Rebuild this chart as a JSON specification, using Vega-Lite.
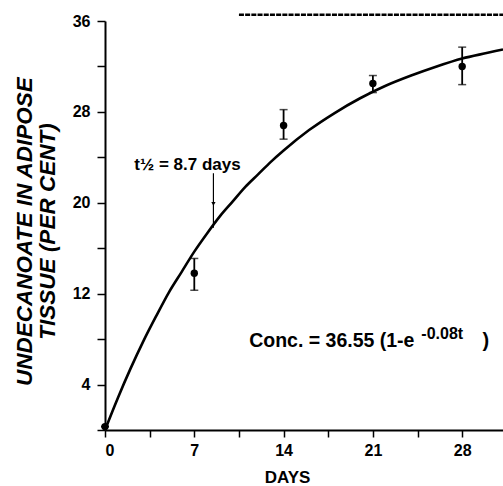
{
  "$schema": "https://vega.github.io/schema/vega-lite/v6.json",
  "width": 398,
  "height": 409,
  "autosize": "none",
  "padding": {"left": 105, "top": 21, "right": 0, "bottom": 56},
  "background": "white",
  "config": {"view": {"stroke": null}, "font": "Liberation Sans"},
  "resolve": {"axis": {"x": "independent", "y": "independent"}, "scale": {"x": "shared", "y": "shared"}},
  "datasets": {
    "points": [
      {"day": 0, "conc": 0.3, "lo": 0.3, "hi": 0.3},
      {"day": 7, "conc": 13.8, "lo": 12.3, "hi": 15.1},
      {"day": 14, "conc": 26.8, "lo": 25.6, "hi": 28.2},
      {"day": 21, "conc": 30.5, "lo": 29.7, "hi": 31.2},
      {"day": 28, "conc": 32.0, "lo": 30.4, "hi": 33.7}
    ],
    "curve": [
      {"day": 0, "conc": 0}, {"day": 1, "conc": 2.8}, {"day": 2, "conc": 5.4},
      {"day": 3, "conc": 7.8}, {"day": 4, "conc": 10.0}, {"day": 5, "conc": 12.1},
      {"day": 6, "conc": 13.9}, {"day": 7, "conc": 15.7}, {"day": 8, "conc": 17.3},
      {"day": 9, "conc": 18.8}, {"day": 10, "conc": 20.1}, {"day": 11, "conc": 21.4},
      {"day": 12, "conc": 22.5}, {"day": 13, "conc": 23.6}, {"day": 14, "conc": 24.6},
      {"day": 16, "conc": 26.4}, {"day": 18, "conc": 27.9}, {"day": 20, "conc": 29.2},
      {"day": 22, "conc": 30.3}, {"day": 24, "conc": 31.2}, {"day": 26, "conc": 32.0},
      {"day": 28, "conc": 32.7}, {"day": 30, "conc": 33.2}, {"day": 31.2, "conc": 33.5}
    ],
    "asymptote": [{"x1": 10.5, "x2": 31.2, "y": 36.55}],
    "arrow": [{"x": 8.5, "y1": 22.6, "y2": 17.8, "yh": 19.9}],
    "notes": [
      {"x": 2.3, "y": 22.9, "label": "t½ = 8.7 days", "size": 17},
      {"x": 11.3, "y": 7.3, "label": "Conc. = 36.55 (1-e", "size": 19.5},
      {"x": 24.8, "y": 8.0, "label": "-0.08t", "size": 16},
      {"x": 29.6, "y": 7.3, "label": ")", "size": 20}
    ]
  },
  "layer": [
    {
      "data": {"name": "curve"},
      "mark": {"type": "line", "color": "black", "strokeWidth": 2.6, "interpolate": "monotone"},
      "encoding": {
        "x": {
          "field": "day", "type": "quantitative",
          "scale": {"domain": [0, 31.2], "nice": false},
          "axis": {
            "title": "DAYS",
            "values": [0, 3.5, 7, 10.5, 14, 17.5, 21, 24.5, 28],
            "labelExpr": "datum.value % 7 == 0 ? datum.label : ''",
            "grid": false, "domainColor": "black", "domainWidth": 2, "tickColor": "black",
            "tickWidth": 1.5, "tickSize": 7, "labelPadding": 5,
            "labelFont": "Liberation Sans", "labelFontSize": 16, "labelFontWeight": "bold", "labelColor": "black",
            "titleFont": "Liberation Sans", "titleFontSize": 17, "titleFontWeight": "bold", "titleColor": "black",
            "titleX": 182, "titleY": 47, "titleBaseline": "middle"
          }
        },
        "y": {
          "field": "conc", "type": "quantitative",
          "scale": {"domain": [0, 36], "nice": false},
          "axis": {
            "title": ["UNDECANOATE IN ADIPOSE", "TISSUE (PER CENT)"],
            "values": [0, 4, 8, 12, 16, 20, 24, 28, 32, 36],
            "labelExpr": "datum.value % 8 == 4 ? datum.label : ''",
            "grid": false, "domainColor": "black", "domainWidth": 2, "tickColor": "black",
            "tickWidth": 1.5, "tickSize": 8, "labelPadding": 7,
            "labelFont": "Liberation Sans", "labelFontSize": 16, "labelFontWeight": "bold", "labelColor": "black",
            "titleFont": "Liberation Sans", "titleFontSize": 22.5, "titleFontWeight": "bold", "titleFontStyle": "italic",
            "titleColor": "black", "titleLineHeight": 23, "titleX": -81, "titleY": 210,
            "titleBaseline": "middle", "titleAlign": "center", "titleAngle": -90
          }
        }
      }
    },
    {
      "data": {"name": "points"},
      "mark": {"type": "errorbar", "ticks": {"size": 8, "color": "black", "thickness": 1.5}, "rule": {"color": "black", "strokeWidth": 1.8}},
      "encoding": {
        "x": {"field": "day", "type": "quantitative", "axis": null},
        "y": {"field": "lo", "type": "quantitative", "axis": null},
        "y2": {"field": "hi"}
      }
    },
    {
      "data": {"name": "points"},
      "mark": {"type": "circle", "color": "black", "opacity": 1, "size": 55},
      "encoding": {
        "x": {"field": "day", "type": "quantitative", "axis": null},
        "y": {"field": "conc", "type": "quantitative", "axis": null}
      }
    },
    {
      "data": {"name": "asymptote"},
      "mark": {"type": "rule", "color": "black", "strokeWidth": 2.6, "strokeDash": [5, 1.2]},
      "encoding": {
        "x": {"field": "x1", "type": "quantitative", "axis": null},
        "x2": {"field": "x2"},
        "y": {"field": "y", "type": "quantitative", "axis": null}
      }
    },
    {
      "data": {"name": "arrow"},
      "mark": {"type": "rule", "color": "black", "strokeWidth": 1.2},
      "encoding": {
        "x": {"field": "x", "type": "quantitative", "axis": null},
        "y": {"field": "y1", "type": "quantitative", "axis": null},
        "y2": {"field": "y2"}
      }
    },
    {
      "data": {"name": "arrow"},
      "mark": {"type": "point", "shape": "triangle-down", "filled": true, "color": "black", "size": 18, "opacity": 1},
      "encoding": {
        "x": {"field": "x", "type": "quantitative", "axis": null},
        "y": {"field": "yh", "type": "quantitative", "axis": null}
      }
    },
    {
      "data": {"name": "notes"},
      "mark": {"type": "text", "color": "black", "baseline": "alphabetic", "align": "left", "font": "Liberation Sans", "fontWeight": "bold"},
      "encoding": {
        "x": {"field": "x", "type": "quantitative", "axis": null},
        "y": {"field": "y", "type": "quantitative", "axis": null},
        "text": {"field": "label"},
        "size": {"field": "size", "type": "quantitative", "scale": null}
      }
    }
  ]
}
